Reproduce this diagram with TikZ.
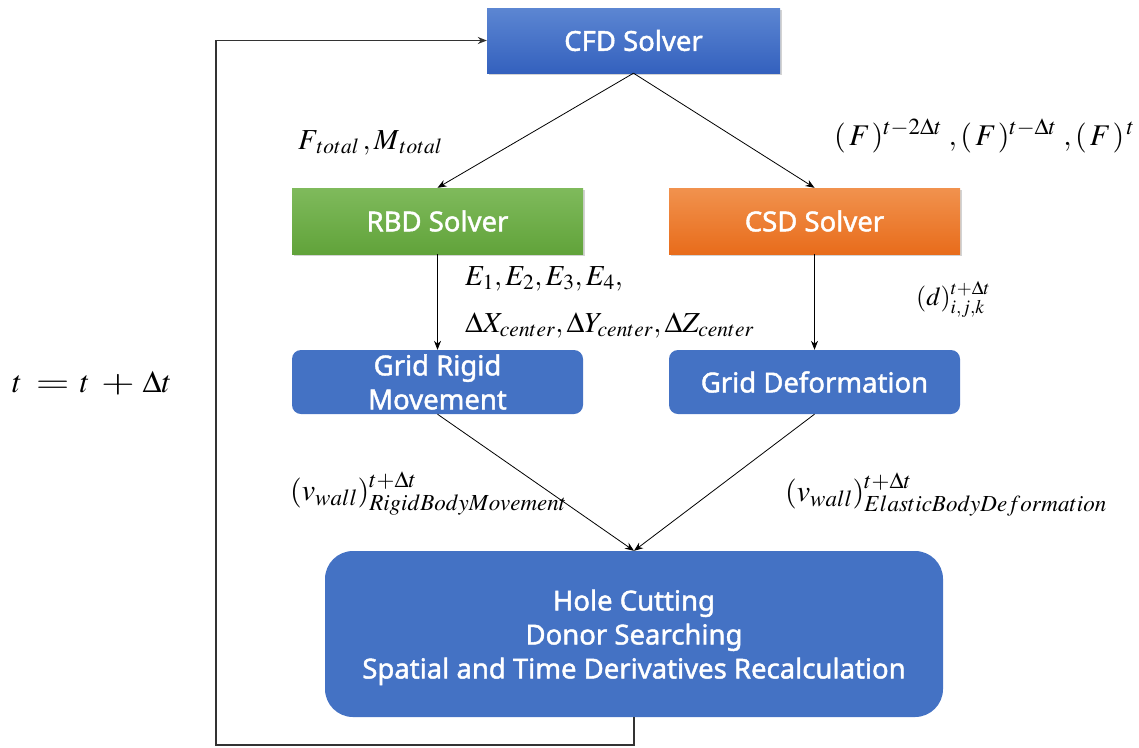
\documentclass[tikz,border=0pt]{standalone}
\usepackage{mathptmx}
\usepackage{graphicx}
\usepackage[no-math]{fontspec}
\newfontfamily\boxfont{Noto Sans}[FakeBold=1.6]
\usetikzlibrary{shadows,arrows.meta}
\DeclareMathSizes{30}{30}{23}{16}

\definecolor{flatblue}{HTML}{4472C4}
\definecolor{cfdtop}{HTML}{5C86D2}
\definecolor{cfdbot}{HTML}{3461BE}
\definecolor{rbdtop}{HTML}{7FBA5C}
\definecolor{rbdbot}{HTML}{61A33A}
\definecolor{csdtop}{HTML}{F1924E}
\definecolor{csdbot}{HTML}{E86C1B}

\newcommand{\wideeq}{\mathrel{\scalebox{1.4}[1]{$=$}}}
\newcommand{\wideplus}{\mathbin{\scalebox{1.4}[1]{$+$}}}
\newcommand{\pF}{(\mkern2mu F\mkern1mu)}

\tikzset{
  box/.style={minimum width=291pt, minimum height=65pt, inner sep=0pt,
    font=\boxfont\fontsize{27.5}{34}\selectfont, text=white, align=center},
  solverbox/.style={box, drop shadow={opacity=0.35, shadow xshift=1.5pt, shadow yshift=-2pt}},
  gridbox/.style={box, fill=flatblue, rounded corners=9pt},
  conn/.style={-{Stealth[length=9pt,width=7pt]}, line width=0.8pt},
  loopline/.style={-{Stealth[length=9pt,width=7pt]}, line width=1.2pt, draw=black!80},
  mathlbl/.style={inner sep=0pt, anchor=base west, font=\fontsize{29}{34}\selectfont}
}

\begin{document}
\begin{tikzpicture}[x=1pt,y=-1pt]
\useasboundingbox (0,0) rectangle (1139,747);

% solver boxes
\node[solverbox, top color=cfdtop, bottom color=cfdbot, minimum width=293pt] (cfd) at (633.5,40.5) {CFD Solver};
\node[solverbox, top color=rbdtop, bottom color=rbdbot, minimum height=66pt] (rbd) at (437.5,221) {RBD Solver};
\node[solverbox, top color=csdtop, bottom color=csdbot, minimum height=66pt] (csd) at (814.5,221) {CSD Solver};

% grid update boxes
\node[gridbox, minimum height=64pt] (rigid) at (437.5,382) {Grid Rigid\\Movement};
\node[gridbox, minimum height=64pt] (deform) at (814.5,382) {Grid Deformation};

% overset assembly box
\node[box, fill=flatblue, rounded corners=28pt, minimum width=618pt, minimum height=166pt,
  text depth=0pt] (overset) at (634,634)
  {\rule{0pt}{6pt}Hole Cutting\\Donor Searching\\Spatial and Time Derivatives Recalculation};

% data flow
\draw[conn] (cfd.south) -- (rbd.north);
\draw[conn] (cfd.south) -- (csd.north);
\draw[conn] (rbd.south) -- (rigid.north);
\draw[conn] (csd.south) -- (deform.north);
\draw[conn] (rigid.south) -- (overset.north);
\draw[conn] (deform.south) -- (overset.north);

% time-step loop
\coordinate (lb) at (216,745);
\draw[loopline] (overset.south) |- (lb) |- (cfd.west);

% labels
\node[mathlbl] (lf) at (298,149) {$F_{\mkern3mu total}\,,M_{\mkern2mu total}$};
\node[mathlbl, font=\fontsize{30}{34}\selectfont] (lhist) at (834,145)
  {$\pF^{t-2\Delta t}\;,\pF^{t-\Delta t}\;,\pF^{\,t}$};
\node[mathlbl] (le) at (465,285) {$E_1,E_2,E_3,E_4,$};
\node[mathlbl] (lx) at (465,332) {$\Delta X_{center},\Delta Y_{center},\Delta Z_{center}$};
\node[mathlbl, font=\fontsize{26}{30}\selectfont] (ld) at (916,305) {$(d)^{t+\Delta t}_{i,j,k}$};
\node[mathlbl, font=\fontsize{30}{34}\selectfont] (lvr) at (290,500) {$(v_{wall})^{t+\Delta t}_{RigidBodyMovement}$};
\node[mathlbl, font=\fontsize{30}{34}\selectfont] (lve) at (785,501) {$(v_{wall})^{t+\Delta t}_{ElasticBodyDeformation}$};
\node[mathlbl, font=\fontsize{31}{36}\selectfont] (lt) at (12,392) {$t\;\wideeq\,t\;\wideplus\,\Delta t$};
\end{tikzpicture}
\end{document}
